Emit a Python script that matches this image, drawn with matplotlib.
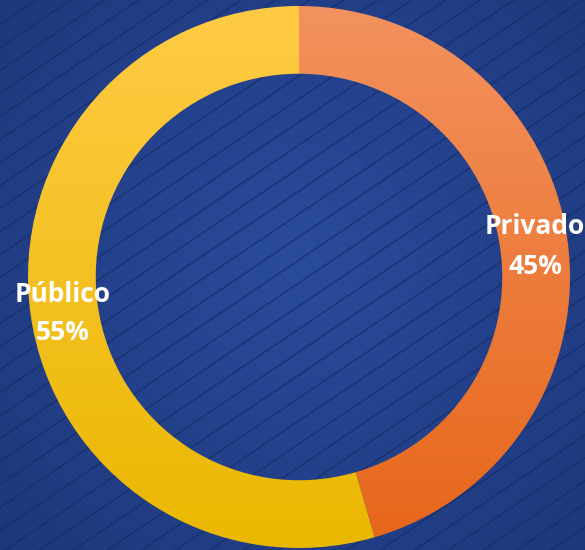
import numpy as np
import matplotlib.pyplot as plt
from matplotlib.colors import LinearSegmentedColormap

# chart data
labels = ['Privado', 'Público']
shares = [45.5, 54.5]
pct_labels = ['45%', '55%']
top_colors = ['#f3925e', '#ffcb45']
bottom_colors = ['#e7661a', '#eab700']

W, H = 585, 550
fig = plt.figure(figsize=(W / 100, H / 100), dpi=100)
ax = fig.add_axes([0, 0, 1, 1])

# background: radial blue gradient + thin diagonal stripes
yy, xx = np.mgrid[0:H, 0:W]
r = np.hypot(xx - 300, yy - 260) / 420
r = np.clip(r, 0, 1)
c_in = np.array([0x2a, 0x4a, 0x9c]) / 255
c_out = np.array([0x1d, 0x38, 0x7a]) / 255
bg = c_in[None, None, :] * (1 - r[..., None]) + c_out[None, None, :] * r[..., None]
ax.imshow(bg, extent=(0, W, 0, H), origin='upper', zorder=0)

slope = np.tan(np.radians(34))
for b in np.arange(-W * slope, H + 10, 23):
    xs = np.array([0, W])
    ax.plot(xs, b + slope * xs, color='#162c68', lw=1.2, alpha=0.65, zorder=1)

# donut
cx, cy, rad = 299, 273, 271
wedges, _ = ax.pie(shares, startangle=90, counterclock=False, radius=rad,
                   center=(cx, cy), frame=True,
                   wedgeprops=dict(width=rad * 0.25, linewidth=0))

for w, c1, c2 in zip(wedges, top_colors, bottom_colors):
    w.set_facecolor('none')
    cmap = LinearSegmentedColormap.from_list('g', [c2, c1])
    grad = np.linspace(0, 1, 256).reshape(-1, 1)
    im = ax.imshow(grad, cmap=cmap, origin='lower', aspect='auto',
                   extent=(cx - rad, cx + rad, cy - rad, cy + rad), zorder=3)
    im.set_clip_path(w)
    w.set_zorder(4)

ax.set_xlim(0, W)
ax.set_ylim(0, H)
ax.set_aspect('auto')
ax.axis('off')

font = dict(color='white', fontsize=19, fontweight='bold', family='Open Sans',
            ha='center', va='center', zorder=5)
ax.text(535, H - 227, labels[0], **font)
ax.text(535, H - 266, pct_labels[0], **font)
ax.text(63, H - 295, labels[1], **font)
ax.text(63, H - 333, pct_labels[1], **font)

fig.savefig('out.png', dpi=100)
